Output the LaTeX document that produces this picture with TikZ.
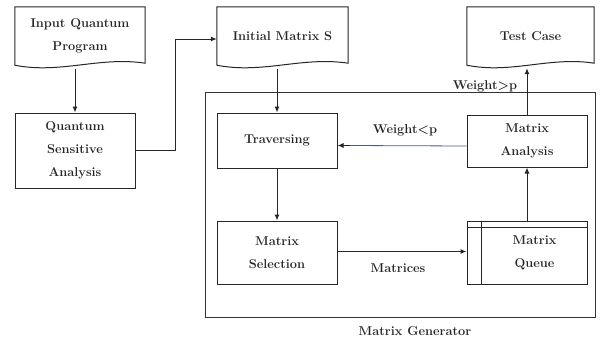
\documentclass[tikz,border=0pt]{standalone}
\usetikzlibrary{arrows.meta,calc}
\definecolor{slateline}{RGB}{80,92,125}
\begin{document}
\begin{tikzpicture}[x=1pt,y=-1pt,
  txt/.style={font=\fontsize{12.8}{23}\selectfont\bfseries,align=center,text=black!85},
  box/.style={txt,draw=black!85,line width=1pt,rectangle,inner sep=0pt},
  doc/.style={txt,rectangle,inner sep=0pt},
  conn/.style={draw=black!85,line width=1pt,-{Latex[length=6pt,width=5pt]}},
  lbl/.style={txt,inner sep=1pt}]
\useasboundingbox (0,0) rectangle (605,341);

% document-shaped boxes: flat top, wavy bottom
\newcommand\docframe[1]{%
  \draw[draw=black!85,line width=1pt]
    (#1.north west) -- (#1.north east) -- ($(#1.south east)+(0,-2)$)
    .. controls ($(#1.south east)!0.35!(#1.south west)+(0,-9)$)
       and ($(#1.south east)!0.65!(#1.south west)+(0,9)$) ..
    (#1.south west) -- cycle;}

\node[doc,minimum width=130,minimum height=58] (inp) at (80,36) {Input Quantum\\Program};
\node[doc,minimum width=131,minimum height=58] (ims) at (282.5,36) {Initial Matrix S};
\node[doc,minimum width=127,minimum height=58] (tc) at (530.5,36) {Test Case};
\docframe{inp}\docframe{ims}\docframe{tc}

\node[box,minimum width=120,minimum height=75] (qsa) at (75,150.5) {Quantum\\Sensitive\\Analysis};

% generator frame
\node[draw=black!80,line width=1pt,minimum width=390,minimum height=225,inner sep=0pt] (gen) at (400,204.5) {};
\node[lbl] (genl) at (415,331) {Matrix Generator};

\node[box,minimum width=120,minimum height=55] (trav) at (277,140.5) {Traversing};
\node[box,minimum width=120,minimum height=63] (msel) at (277,252.5) {Matrix\\Selection};
\node[box,minimum width=120,minimum height=63] (mq) at (527,252.5) {\hspace*{15pt}Matrix\\\hspace*{15pt}Queue};
\node[box,minimum width=120,minimum height=52] (ma) at (527,141) {Matrix\\Analysis};

% queue compartments
\draw[draw=black!85,line width=1pt] ($(mq.north west)+(15,0)$) -- ($(mq.south west)+(15,0)$);
\draw[draw=black!85,line width=1pt] ($(mq.north west)+(0,7)$) -- ($(mq.north east)+(0,7)$);

% connectors
\draw[conn,shorten <=4pt] (inp.south -| qsa.north) -- (qsa.north);
\coordinate (bend) at (175,39);
\draw[conn] (qsa.east) -| (bend) -- (bend -| ims.west);
\draw[conn,shorten <=4pt] (ims.south -| trav.north) -- (trav.north);
\draw[conn] (trav.south) -- (msel.north);
\draw[conn] ($(msel.east)+(0,-1)$) -- ($(mq.west)+(0,-1)$);
\draw[conn] (mq.north) -- (ma.south);
\draw[draw=slateline,line width=0.8pt] ($(ma.west)+(0,5)$) -- ($(trav.east)+(12,5)$);
\draw[conn] ($(trav.east)+(12,5)$) -- ($(trav.east)+(0,5)$);
\draw[conn,shorten >=3pt] (ma.north) -- (tc.south -| ma.north);

\node[lbl] (wlt) at (405,130) {Weight<p};
\node[lbl] (wgt) at (485,86) {Weight>p};
\node[lbl] (mtx) at (398,268) {Matrices};
\end{tikzpicture}
\end{document}
